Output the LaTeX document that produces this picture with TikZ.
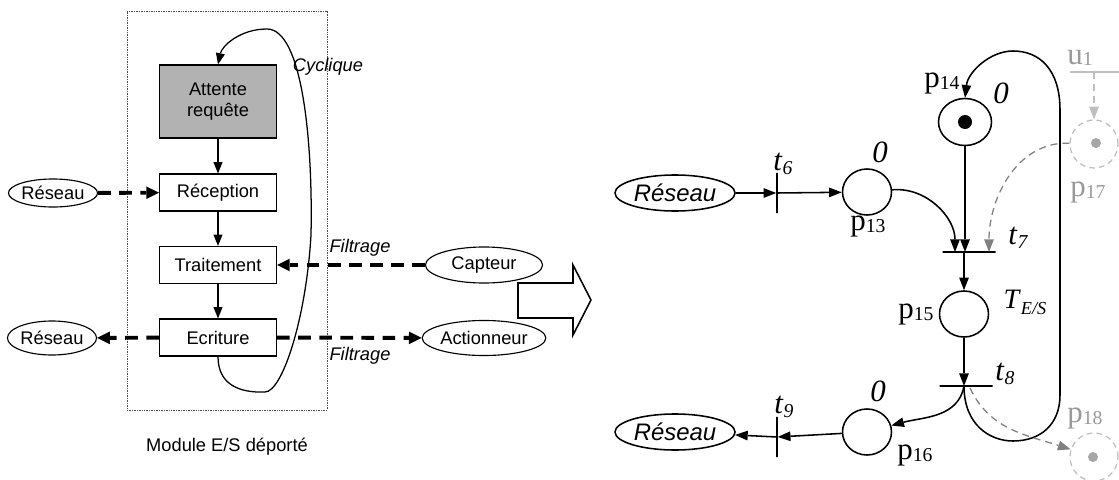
\documentclass[tikz,border=0pt]{standalone}
\usepackage{fontspec}
\setmainfont{Liberation Serif}
\setsansfont{Liberation Sans}
\usetikzlibrary{arrows.meta,shapes.geometric}

% subscripted labels of the Petri net
\newcommand{\pl}[1]{p\raisebox{-0.1ex}{\fontsize{14}{14}\selectfont #1}}
\newcommand{\tl}[1]{\textit{t}\raisebox{-0.3ex}{\fontsize{14}{14}\selectfont\itshape #1}}

\begin{document}
\begin{tikzpicture}[x=0.025cm, y=-0.025cm,
		box_style/.style={rectangle,draw=black,line width=0.8pt,minimum width=2.925cm,minimum height=0.925cm,align=center,font=\sffamily\fontsize{13}{15}\selectfont},
		ext_style/.style={ellipse,draw=black,line width=0.8pt,inner sep=0pt,font=\sffamily\fontsize{13}{15}\selectfont},
		net_style/.style={ellipse,draw=black,line width=1.1pt,inner sep=0pt,minimum width=3cm,minimum height=0.9cm,font=\sffamily\itshape\fontsize{17}{19}\selectfont},
		place_style/.style={ellipse,draw=black,line width=1.1pt,inner sep=0pt,minimum width=1.225cm,minimum height=1.15cm},
		gplace_style/.style={circle,draw=black!25,line width=0.9pt,dash pattern=on 4pt off 3pt,inner sep=0pt,minimum size=1.2cm},
		tok_style/.style={circle,fill=black,inner sep=0pt,minimum size=0.35cm},
		gtok_style/.style={circle,fill=black!35,inner sep=0pt,minimum size=0.25cm},
		tv_style/.style={rectangle,draw=black,line width=1.1pt,inner sep=0pt,minimum width=0pt,minimum height=1cm},
		th_style/.style={rectangle,draw=black,line width=1.1pt,inner sep=0pt,minimum height=0pt,minimum width=1.325cm},
		lbl_style/.style={inner sep=0pt,font=\fontsize{22}{24}\selectfont},
		glbl_style/.style={inner sep=0pt,text=black!40,font=\fontsize{22}{24}\selectfont},
		note_style/.style={inner sep=0pt,font=\sffamily\itshape\fontsize{13}{15}\selectfont},
		flow_style/.style={draw=black,line width=0.9pt,-{Triangle[length=8pt,width=6.5pt,line width=0pt]}},
		io_style/.style={draw=black,line width=2.8pt,dash pattern=on 9pt off 6pt,-{Triangle[length=9pt,width=9pt,line width=0pt]}},
		arc_style/.style={draw=black,line width=1.1pt,-{Triangle[length=9pt,width=7pt,line width=0pt]}},
		garc_style/.style={draw=black!50,line width=0.9pt,dash pattern=on 5pt off 3.5pt,-{Triangle[length=9pt,width=7pt,line width=0pt]}}]

		\useasboundingbox (0,0) rectangle (1119,480);

		% remote I/O module
		\node[rectangle,draw=black!70,line width=0.5pt,dash pattern=on 0.6pt off 0.6pt,minimum width=5cm,minimum height=9.975cm] (module) at (227,210.5) {};
		\node[box_style,fill=black!30,minimum height=1.825cm] (attente) at (218,101.5) {Attente\\requête};
		\node[box_style] (recep) at (218,192.5) {Réception};
		\node[box_style] (trait) at (218,265) {Traitement};
		\node[box_style] (ecrit) at (218,337.5) {Ecriture};
		\node[ext_style,minimum width=2.175cm,minimum height=0.7cm] (res1) at (53,193) {Réseau};
		\node[ext_style,minimum width=2.15cm,minimum height=0.85cm] (res2) at (52,338) {Réseau};
		\node[ext_style,minimum width=2.925cm,minimum height=0.9cm] (capt) at (484,265) {Capteur};
		\node[ext_style,minimum width=2.925cm,minimum height=0.875cm] (act) at (484,338) {Actionneur};

		\node[note_style] (cyc) at (328,67) {Cyclique};
		\node[note_style] (filt1) at (360,248) {Filtrage};
		\node[note_style] (filt2) at (360,356) {Filtrage};
		\node[inner sep=0pt,font=\sffamily\fontsize{13}{15}\selectfont] (modlbl) at (227,447) {Module E/S déporté};

		\draw[flow_style] (attente) -- (recep);
		\draw[flow_style] (recep) -- (trait);
		\draw[flow_style] (trait) -- (ecrit);
		\draw[io_style] (res1) -- (recep);
		\draw[io_style] (ecrit) -- (res2);
		\draw[io_style] (capt) -- (trait);
		\draw[io_style] (ecrit) -- (act);
		\draw[flow_style] (ecrit.south) .. controls (218,385) and (240,393) .. (265,392)
			.. controls (282,392) and (306,320) .. (311,235)
			.. controls (313,140) and (302,29) .. (267,29)
			.. controls (240,29) and (222,46) .. (attente.north);

		% translation arrow
		\draw[line width=1.1pt,line join=miter] (518,283) -- (573,283) -- (573,265) -- (591,300) -- (573,335) -- (573,318) -- (518,318) -- cycle;

		% Petri net model
		\node[net_style] (res3) at (675,193) {Réseau};
		\node[tv_style] (t6) at (777,193) {};
		\node[place_style] (p13) at (867,192) {};
		\node[place_style,minimum width=1.325cm,minimum height=1.175cm] (p14) at (965,122) {};
		\node[tok_style] (m14) at (p14) {};
		\node[th_style] (t7) at (969,252) {};
		\node[place_style] (p15) at (964,314) {};
		\node[th_style] (t8) at (966,386) {};
		\node[place_style] (p16) at (867,432) {};
		\node[tv_style] (t9) at (777,437) {};
		\node[net_style] (res4) at (675,432) {Réseau};

		\node[gplace_style] (p17) at (1094,144) {};
		\node[gtok_style] (m17) at (1096,143) {};
		\node[gplace_style] (p18) at (1094,457) {};
		\node[gtok_style] (m18) at (1093,457) {};
		\node[rectangle,draw=black!25,line width=1pt,inner sep=0pt,minimum height=0pt,minimum width=1.5cm] (u1) at (1100,72) {};

		\node[lbl_style] (l13) at (868,227) {\pl{13}};
		\node[lbl_style] (l14) at (942,84) {\pl{14}};
		\node[lbl_style] (l15) at (916,315) {\pl{15}};
		\node[lbl_style] (l16) at (915,456) {\pl{16}};
		\node[lbl_style] (m13) at (880,152) {\textit{0}};
		\node[lbl_style] (d14) at (1001,93) {\textit{0}};
		\node[lbl_style] (d16) at (878,391) {\textit{0}};
		\node[lbl_style] (l6) at (783,164) {\tl{6}};
		\node[lbl_style] (l7) at (1018,238) {\tl{7}};
		\node[lbl_style] (l8) at (1005,374) {\tl{8}};
		\node[lbl_style] (l9) at (784,407) {\tl{9}};
		\node[lbl_style,font=\fontsize{20}{22}\selectfont] (tes) at (1025,302) {\textit{T}\raisebox{-0.45ex}{\fontsize{13}{13}\selectfont\itshape E/S}};
		\node[glbl_style] (l17) at (1088,193) {\pl{17}};
		\node[glbl_style] (l18) at (1085,419) {\pl{18}};
		\node[glbl_style] (lu1) at (1080,58) {u\raisebox{-0.1ex}{\fontsize{14}{14}\selectfont 1}};

		\draw[arc_style] (res3) -- (t6);
		\draw[arc_style] (t6) -- (p13);
		\draw[arc_style] (p13) to[out=5,in=90] (955,252);
		\draw[arc_style] (p14) -- (p14 |- t7);
		\draw[arc_style] (p15 |- t7) -- (p15);
		\draw[arc_style] (p15) -- (p15 |- t8);
		\draw[arc_style] (p15 |- t8) to[out=-100,in=15] (p16);
		\draw[arc_style] (p16) -- (t9);
		\draw[arc_style] (t9) -- (res4);
		\draw[arc_style] (p15 |- t8) .. controls (964,425) and (990,441) .. (1013,441)
			.. controls (1040,441) and (1060,425) .. (1060,395) -- (1060,110)
			.. controls (1060,70) and (1040,51) .. (1013,51)
			.. controls (990,51) and (968,72) .. (p14.north);

		\draw[garc_style] (p17) to[out=178,in=90] (989,252);
		\draw[garc_style] (970,388) to[out=-65,in=162] (p18);
		\draw[garc_style,draw=black!25] (p17 |- u1) -- (p17);
		\end{tikzpicture}
\end{document}
